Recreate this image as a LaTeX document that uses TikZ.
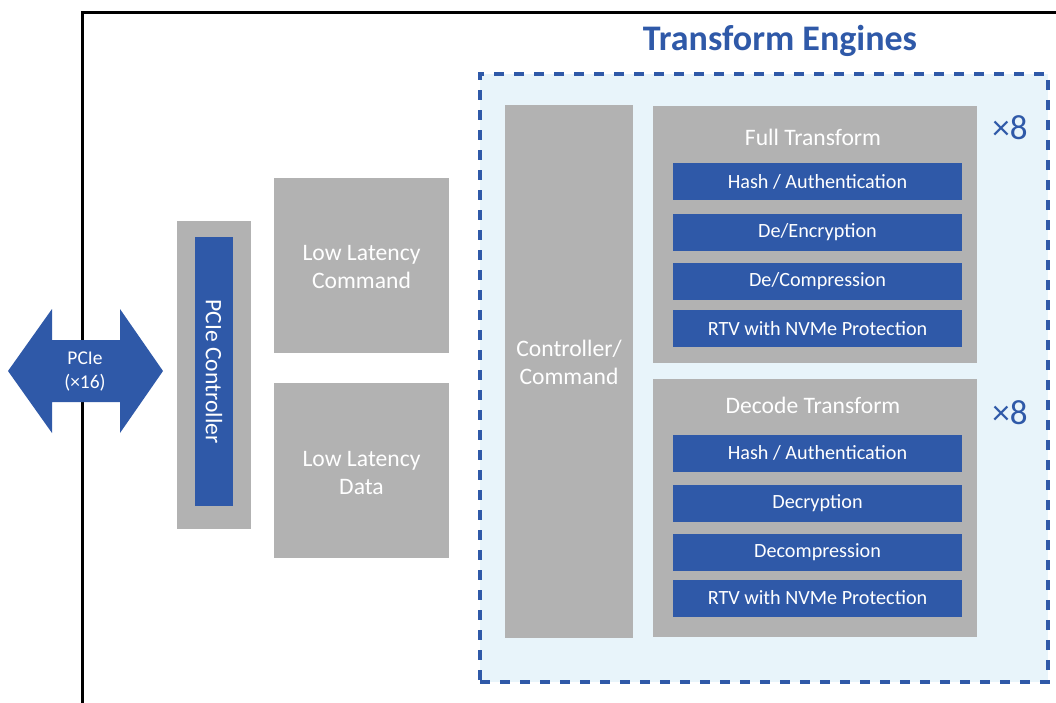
\documentclass[tikz,border=0pt]{standalone}
\usepackage{fontspec}
\setmainfont{Carlito}
\definecolor{tblue}{RGB}{47,89,168}
\definecolor{tgray}{RGB}{178,178,178}
\definecolor{tlight}{RGB}{232,244,250}
\begin{document}
\begin{tikzpicture}[x=1pt,y=-1pt,
  graybox/.style={fill=tgray,inner sep=0pt,text=white,font=\fontsize{24}{28.5}\selectfont,align=center},
  bluebar/.style={fill=tblue,inner sep=0pt,text=white,minimum width=289pt,minimum height=37pt,font=\fontsize{20.2}{22}\selectfont},
  lbl/.style={inner sep=0pt,text=white,font=\fontsize{23.6}{28}\selectfont,align=center},
  times/.style={inner sep=0pt,text=tblue,font=\fontsize{35}{40}\selectfont}]
\useasboundingbox (0,0) rectangle (1056,702);
% frame
\coordinate (fbl) at (82,703);
\coordinate (ftl) at (82,12);
\coordinate (ftr) at (1057,12);
\draw[line width=3pt] (fbl) -- (ftl) -- (ftr);
% PCIe arrow
\fill[tblue] (8,371) -- (52,309) -- (52,340) -- (120,340) -- (120,309) -- (163,371)
  -- (120,433) -- (120,402) -- (52,402) -- (52,433) -- cycle;
\node[inner sep=0pt,text=white,align=center,font=\fontsize{19.5}{24}\selectfont] (pcie) at (85,372) {PCIe\\(×16)};
% PCIe controller
\node[graybox,minimum width=74pt,minimum height=308pt] (pcictlbg) at (214,375) {};
\node[fill=tblue,inner sep=0pt,minimum width=38pt,minimum height=269pt] (pcictl) at (214,371.5) {};
\node[lbl,rotate=-90] (pcictltxt) at (214,371.5) {PCIe Controller};
% low latency
\node[graybox,minimum width=175pt,minimum height=175pt] (llc) at (361.5,265.5) {};
\node[lbl] (llctxt) at (361.5,267) {Low Latency\\Command};
\node[graybox,minimum width=175pt,minimum height=175pt] (lld) at (361.5,470.5) {};
\node[lbl] (lldtxt) at (361.5,473) {Low Latency\\Data};
% transform engines
\node[fill=tlight,draw=tblue,line width=3.2pt,dash pattern=on 10pt off 10pt,minimum width=568pt,minimum height=608pt,inner sep=0pt] (te) at (764,378) {};
\node[inner sep=0pt,text=tblue,font=\fontsize{36}{40}\selectfont\bfseries] (tetitle) at (780,41) {Transform Engines};
\node[graybox,minimum width=128pt,minimum height=533pt] (ctrl) at (569,371.5) {};
\node[lbl] (ctrltxt) at (569,362) {Controller/\\Command};
% full transform
\node[graybox,minimum width=324pt,minimum height=257pt] (full) at (815,234.5) {};
\node[lbl] (fulltitle) at (813,137) {Full Transform};
\node[bluebar] (f1) at (817.5,181.5) {Hash / Authentication};
\node[bluebar] (f2) at (817.5,232.5) {De/Encryption};
\node[bluebar] (f3) at (817.5,281.5) {De/Compression};
\node[bluebar] (f4) at (817.5,328.5) {RTV with NVMe Protection};
\node[times] (x1) at (1010,128) {×8};
% decode transform
\node[graybox,minimum width=324pt,minimum height=258pt] (dec) at (815,508) {};
\node[lbl] (dectitle) at (813,405) {Decode Transform};
\node[bluebar] (d1) at (817.5,453) {Hash / Authentication};
\node[bluebar] (d2) at (817.5,503) {Decryption};
\node[bluebar] (d3) at (817.5,552) {Decompression};
\node[bluebar] (d4) at (817.5,598) {RTV with NVMe Protection};
\node[times] (x2) at (1010,413) {×8};
\end{tikzpicture}
\end{document}
